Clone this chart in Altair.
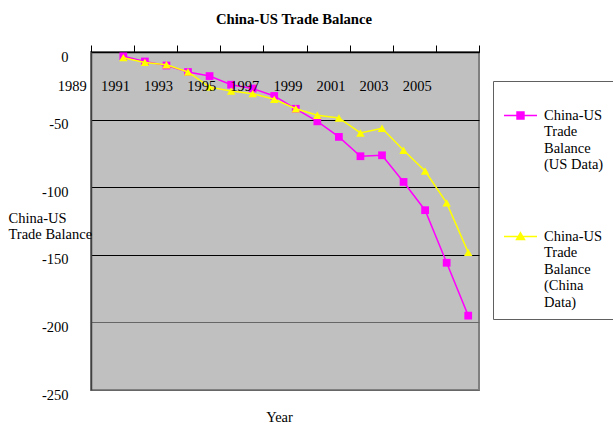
import altair as alt
import pandas as pd

# ---- data -------------------------------------------------------------
years = list(range(1989, 2006))
us_data = [-3.2, -7.0, -10.0, -14.8, -17.8, -24.2, -27.0, -32.5, -42.0,
           -51.3, -62.8, -77.1, -76.4, -96.1, -117.0, -155.9, -195.0]
china_data = [-4.2, -7.7, -9.4, -14.8, -26.0, -28.9, -30.8, -35.0, -42.0,
              -46.8, -48.8, -59.9, -56.4, -72.7, -88.0, -111.6, -148.2]
series_names = ["China-US Trade Balance (US\u00a0Data)",
                "China-US Trade Balance (China Data)"]
year_labels = list(range(1989, 2006, 2))
y_ticks = [0, -50, -100, -150, -200, -250]

# ---- styling ----------------------------------------------------------
series_colors = ["#ff00ff", "#ffff00"]
FONT = "Liberation Serif"
FS = 14.5
# category boundaries (ticks sit between the years)
x_ticks = [years[0] - 1.5 + i for i in range(len(years) + 2)]
# legend glyphs: a short line with the series marker on it, lowered so it
# sits level with the first line of the wrapped label
legend_paths = [
    "M-1,0.42H1M-0.21,0.21H0.21V0.63H-0.21Z",
    "M-1,0.42H1M0,0.2L0.24,0.61H-0.24Z",
]

rows = []
for name, vals in zip(series_names, [us_data, china_data]):
    for yr, v in zip(years, vals):
        rows.append({"year": yr, "value": v, "series": name})
df = pd.DataFrame(rows)

x_scale = alt.Scale(domain=[x_ticks[0], x_ticks[-1]], nice=False, zero=False)
y_scale = alt.Scale(domain=[-250, 0], nice=False)
color_scale = alt.Scale(domain=series_names, range=series_colors)

x_enc = alt.X(
    "year:Q", scale=x_scale,
    axis=alt.Axis(orient="top", values=x_ticks, labels=False, grid=False,
                  tickSize=7, tickColor="black", domainColor="black",
                  domainWidth=1.5, title="Year", titleX=188, titleY=369,
                  titleBaseline="alphabetic", titleFontWeight="normal"),
)
y_enc = alt.Y(
    "value:Q", scale=y_scale,
    axis=alt.Axis(values=y_ticks, ticks=False, labelPadding=23, labelOffset=5,
                  labelExpr="'' + datum.value",
                  grid=True,
                  gridColor={"condition": {"test": "datum.value <= -200",
                                           "value": "#666666"},
                             "value": "#000000"},
                  gridWidth=1, domainColor="#404040", domainWidth=1.5,
                  title=["China-US", "Trade Balance"], titleAngle=0,
                  titleAlign="left", titleX=-83, titleY=170,
                  titleBaseline="alphabetic", titleFontWeight="normal"),
)

base = alt.Chart(df)


def series_layers(name, colour, shape, size):
    sub = base.transform_filter(alt.datum.series == name)
    line = sub.mark_line(strokeWidth=1.5, color=colour).encode(x=x_enc, y=y_enc)
    pts = sub.mark_point(filled=True, shape=shape, size=size, opacity=1,
                         color=colour).encode(x=x_enc, y=y_enc)
    return [line, pts]


leg = alt.Legend(
    title=None, orient="none", legendX=402, legendY=29, direction="vertical",
    padding=10, rowPadding=40, symbolSize=1089, symbolStrokeWidth=1.5,
    symbolOpacity=1, labelFont=FONT, labelFontSize=FS, labelOffset=6,
    labelBaseline="top", labelLimit=0, labelColor="black",
    labelExpr="split(datum.label, ' ')",
    strokeColor="#606060", fillColor="white",
)

# legend-only layer: no rows reach it, the scales carry the entries
legend_layer = base.transform_filter("false").mark_point(
    filled=True, size=1089, strokeWidth=1.5, opacity=1
).encode(
    color=alt.Color("series:N", scale=color_scale, legend=leg),
    stroke=alt.Stroke("series:N",
                      scale=alt.Scale(domain=series_names, range=series_colors),
                      legend=leg),
    shape=alt.Shape("series:N",
                    scale=alt.Scale(domain=series_names, range=legend_paths),
                    legend=leg),
)

year_text = alt.Chart(pd.DataFrame({"year": year_labels})).mark_text(
    dx=-51, baseline="middle", align="center", font=FONT, fontSize=FS,
    color="black"
).encode(
    x=alt.X("year:Q", scale=x_scale),
    y=alt.value(35),
    text=alt.Text("year:Q", format="d"),
)

layers = (series_layers(series_names[0], series_colors[0], "square", 60)
          + series_layers(series_names[1], series_colors[1], "triangle-up", 72)
          + [legend_layer, year_text])

chart = alt.layer(*layers).properties(
    width=388,
    height=338,
    autosize=alt.AutoSizeParams(type="none"),
    padding={"left": 91, "top": 52, "right": 134, "bottom": 33},
    view=alt.ViewBackground(fill="#c0c0c0", stroke="#808080", strokeWidth=2),
    title=alt.TitleParams("China-US Trade Balance", font=FONT, fontSize=14.7,
                          fontWeight="bold", color="black", anchor="middle",
                          dx=9, offset=6, baseline="alphabetic"),
).configure(font=FONT).configure_axis(
    labelFont=FONT, titleFont=FONT, labelFontSize=FS, titleFontSize=FS,
    labelColor="black", titleColor="black",
).configure_view(
    fill="#c0c0c0", stroke="#808080", strokeWidth=2,
)

chart.save("out.html", embed_options={"renderer": "svg", "actions": False})
